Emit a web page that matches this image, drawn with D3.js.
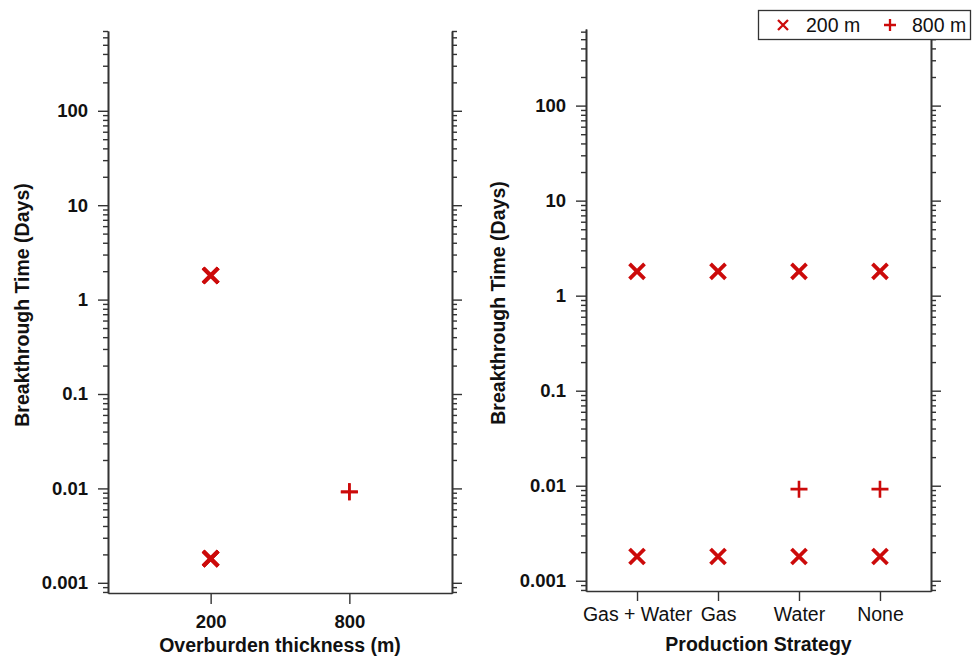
<!DOCTYPE html>
<html lang="en">
<head>
<meta charset="UTF-8">
<title>Breakthrough time</title>
<script src="https://cdnjs.cloudflare.com/ajax/libs/d3/7.8.5/d3.min.js"></script>
<style>
  body { margin: 0; background: #fff; }
  text { font-family: "Liberation Sans", Arial, sans-serif; }
</style>
</head>
<body>
<svg id="chart" width="976" height="658"></svg>
<script>
// data
const strategies = ["Gas + Water", "Gas", "Water", "None"];
const thicknesses = ["200", "800"];
// 200 m runs give two breakthrough times per strategy (upper and lower)
const upper200 = [1.8, 1.8, 1.8, 1.8];
const lower200 = [0.0018, 0.0018, 0.0018, 0.0018];
// 800 m runs only break through for Water and None
const values800 = [null, null, 0.0092, 0.0092];
const majorTicks = [0.001, 0.01, 0.1, 1, 10, 100];
const legendLabels = ["200 m", "800 m"];

const red = "#cc0a0a";
const axisCol = "#333";

const svg = d3.select("#chart");

// flat list of points
const points = [];
strategies.forEach((s, i) => {
  points.push({ strategy: s, thick: "200", v: upper200[i] });
  points.push({ strategy: s, thick: "200", v: lower200[i] });
  if (values800[i] != null) points.push({ strategy: s, thick: "800", v: values800[i] });
});

// minor ticks 2..9 in each decade
function minorTicks(domain) {
  const out = [];
  for (let e = -4; e <= 3; e++) {
    for (let m = 2; m <= 9; m++) {
      const v = m * Math.pow(10, e);
      if (v >= domain[0] && v <= domain[1]) out.push(v);
    }
  }
  return out;
}

// marker paths
function timesPath(x, y, r) {
  return `M${x - r},${y - r}L${x + r},${y + r}M${x - r},${y + r}L${x + r},${y - r}`;
}
function plusPath(x, y, r) {
  return `M${x - r},${y}L${x + r},${y}M${x},${y - r}L${x},${y + r}`;
}

function panel(opt) {
  const g = svg.append("g");
  const x = d3.scalePoint().domain(opt.cats).range([opt.x0, opt.x1]).padding(opt.pad);
  const y = d3.scaleLog().domain(opt.yDomain).range([opt.yBottom, opt.yTop]);

  // left axis (minor ticks in their own group)
  g.append("g").attr("transform", `translate(${opt.x0},0)`)
    .call(d3.axisLeft(y).tickValues(minorTicks(opt.yDomain)).tickSize(5).tickFormat("").tickSizeOuter(0));
  const left = g.append("g").attr("transform", `translate(${opt.x0},0)`);
  left.call(d3.axisLeft(y).tickValues(majorTicks).tickSize(10).tickPadding(10)
    .tickFormat(d3.format("~g")).tickSizeOuter(0));
  left.selectAll("text").attr("font-size", 18.5).attr("font-weight", "bold").attr("fill", "#111")
    .attr("font-family", "Liberation Sans, Arial, sans-serif");

  // right axis
  g.append("g").attr("transform", `translate(${opt.x1},0)`)
    .call(d3.axisRight(y).tickValues(minorTicks(opt.yDomain)).tickSize(5).tickFormat("").tickSizeOuter(0));
  g.append("g").attr("transform", `translate(${opt.x1},0)`)
    .call(d3.axisRight(y).tickValues(majorTicks).tickSize(10).tickFormat("").tickSizeOuter(0));

  // bottom axis
  const bottom = g.append("g").attr("transform", `translate(0,${opt.yBottom})`);
  bottom.call(d3.axisBottom(x).tickSize(opt.xTick).tickPadding(opt.xPad).tickSizeOuter(0));
  bottom.selectAll("text").attr("font-size", opt.xFont).attr("font-weight", opt.xBold ? "bold" : "normal")
    .attr("fill", "#111").attr("font-family", "Liberation Sans, Arial, sans-serif");

  g.selectAll(".domain").attr("stroke", axisCol).attr("stroke-width", 1.6);
  g.selectAll(".tick line").attr("stroke", axisCol).attr("stroke-width", 1.4);

  // axis titles
  g.append("text")
    .attr("x", (opt.x0 + opt.x1) / 2).attr("y", opt.titleY)
    .attr("text-anchor", "middle").attr("font-size", 19.5).attr("font-weight", "bold").attr("fill", "#111")
    .text(opt.xTitle);
  g.append("text")
    .attr("transform", `translate(${opt.yTitleX},${opt.yTitleMid}) rotate(-90)`)
    .attr("text-anchor", "middle").attr("font-size", 19.5).attr("font-weight", "bold").attr("fill", "#111")
    .text("Breakthrough Time (Days)");

  // markers
  g.append("g").selectAll("path")
    .data(points)
    .join("path")
    .attr("d", d => {
      const cx = x(d[opt.key]), cy = y(d.v);
      return d.thick === "200" ? timesPath(cx, cy, 7.5) : plusPath(cx, cy, 8.5);
    })
    .attr("fill", "none")
    .attr("stroke", red)
    .attr("stroke-width", d => d.thick === "200" ? 3.8 : 2.6);
}

panel({
  cats: thicknesses, key: "thick", x0: 108, x1: 452, pad: 0.74,
  yDomain: [0.00078, 700], yBottom: 593, yTop: 31,
  xTick: 11, xPad: 11, xFont: 18.5, xBold: true, titleY: 652,
  xTitle: "Overburden thickness (m)", yTitleX: 29, yTitleMid: 305
});

panel({
  cats: strategies, key: "strategy", x0: 586, x1: 931, pad: 0.63,
  yDomain: [0.00078, 640], yBottom: 591, yTop: 29,
  xTick: 10, xPad: 6, xFont: 19.5, xBold: false, titleY: 651,
  xTitle: "Production Strategy", yTitleX: 505, yTitleMid: 303
});

// legend
const leg = svg.append("g");
leg.append("rect")
  .attr("x", 758.5).attr("y", 10.5).attr("width", 212).attr("height", 29)
  .attr("fill", "#fff").attr("stroke", axisCol).attr("stroke-width", 1.3);
leg.append("path").attr("d", timesPath(783, 25, 5))
  .attr("stroke", red).attr("stroke-width", 2.3).attr("fill", "none");
leg.append("text").attr("x", 806).attr("y", 32).attr("font-size", 19.5).attr("fill", "#111").text(legendLabels[0]);
leg.append("path").attr("d", plusPath(890, 25, 6))
  .attr("stroke", red).attr("stroke-width", 2.3).attr("fill", "none");
leg.append("text").attr("x", 912).attr("y", 32).attr("font-size", 19.5).attr("fill", "#111").text(legendLabels[1]);
</script>
</body>
</html>
